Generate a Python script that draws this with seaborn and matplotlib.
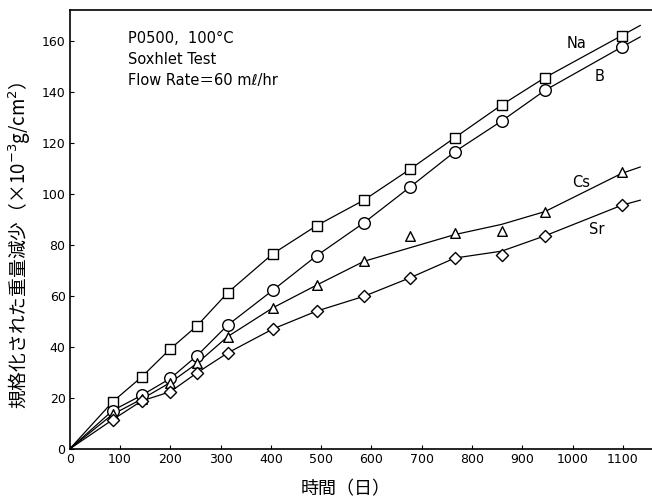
import numpy as np
import pandas as pd
import matplotlib
matplotlib.use("Agg")
import matplotlib.pyplot as plt
import seaborn as sns

# ---- data ----
days = [85, 143, 200, 253, 314, 404, 491, 585, 676, 766, 859, 945, 1098]
na = [18.4, 28.2, 39.2, 48.2, 61.2, 76.5, 87.5, 97.5, 109.5, 122.0, 134.8, 145.5, 162.0]
b = [15.0, 21.0, 27.6, 36.5, 48.5, 62.2, 75.7, 88.6, 102.5, 116.5, 128.5, 140.5, 157.5]
cs = [13.5, 19.5, 26.0, 33.5, 44.0, 55.3, 64.2, 73.5, 83.5, 84.5, 85.5, 93.0, 108.5]
sr = [11.4, 18.8, 22.4, 29.8, 37.6, 47.0, 54.0, 59.8, 67.0, 74.8, 76.0, 83.5, 95.5]

# drawn (fitted) curves, at 0, the data days, and the line end
curve_days = [0, 85, 143, 200, 253, 314, 404, 491, 585, 676, 766, 859, 945, 1098, 1135]
na_curve = [0, 18.4, 28.2, 39.2, 48.2, 61.2, 76.5, 87.5, 97.5, 109.5, 122.0, 134.8, 145.5, 162.0, 166.0]
b_curve = [0, 15.0, 21.0, 27.6, 36.5, 48.5, 62.2, 75.7, 88.6, 102.5, 116.5, 128.5, 140.5, 157.5, 161.5]
cs_curve = [0, 13.5, 19.5, 26.0, 33.5, 44.0, 55.3, 64.2, 73.5, 78.8, 84.0, 88.0, 93.0, 108.0, 110.5]
sr_curve = [0, 11.4, 18.8, 22.4, 29.8, 37.6, 47.0, 54.0, 59.8, 67.0, 74.8, 77.5, 83.5, 95.5, 97.5]

series_names = ["Na", "B", "Cs", "Sr"]
markers = {"Na": "s", "B": "o", "Cs": "^", "Sr": "D"}
marker_sizes = {"Na": 48, "B": 70, "Cs": 48, "Sr": 38}
x_ticks = list(range(0, 1200, 100))
y_ticks = list(range(0, 180, 20))

sns.set_style("ticks")
plt.rcParams["font.family"] = ["DejaVu Sans", "Noto Sans CJK JP"]
plt.rcParams["text.color"] = "black"
plt.rcParams["axes.labelcolor"] = "black"

values = {"Na": na, "B": b, "Cs": cs, "Sr": sr}
curves = {"Na": na_curve, "B": b_curve, "Cs": cs_curve, "Sr": sr_curve}
rows, crow = [], []
for name in series_names:
    for d, v in zip(days, values[name]):
        rows.append({"day": d, "value": v, "series": name})
    for d, v in zip(curve_days, curves[name]):
        crow.append({"day": d, "value": v, "series": name})
df = pd.DataFrame(rows)
cdf = pd.DataFrame(crow)

fig = plt.figure(figsize=(6.52, 5.01), dpi=100)
ax = fig.add_axes([0.107, 0.104, 0.893, 0.876])

sns.lineplot(data=cdf, x="day", y="value", units="series", estimator=None,
             color="black", linewidth=0.9, ax=ax, legend=False, sort=True)
for name in series_names:
    sub = df[df["series"] == name]
    sns.scatterplot(data=sub, x="day", y="value", marker=markers[name],
                    s=marker_sizes[name], facecolor="white", edgecolor="black",
                    linewidth=1.0, ax=ax, legend=False, zorder=5)

ax.set_xlim(0, 1158)
ax.set_ylim(0, 172)
ax.set_xticks(x_ticks)
ax.set_yticks(y_ticks)
ax.tick_params(direction="in", length=3, width=0.8, labelsize=9, colors="black", pad=3)
for s in ["left", "bottom", "top"]:
    ax.spines[s].set_linewidth(1.2)
    ax.spines[s].set_color("black")
ax.spines["right"].set_visible(False)

cjk = ["Noto Sans CJK JP", "DejaVu Sans"]
ax.set_xlabel("時間（日）", fontsize=13, family=cjk, color="black")
ax.xaxis.set_label_coords(0.473, -0.072)
ax.set_ylabel("規格化された重量減少（×10$^{-3}$g/cm$^{2}$）", fontsize=13.5, family=cjk, color="black")
ax.yaxis.set_label_coords(-0.064, 0.465)

ax.text(116, 161, "P0500,  100°C", fontsize=10.5, va="center", color="black")
ax.text(116, 152.5, "Soxhlet Test", fontsize=10.5, va="center", color="black")
ax.text(116, 144.5, "Flow Rate＝60 mℓ/hr", fontsize=10.5, va="center", color="black",
        family=["DejaVu Sans", "Noto Sans CJK JP"])

ax.text(1008, 159, "Na", fontsize=10.5, va="center", ha="center", color="black")
ax.text(1054, 146, "B", fontsize=10.5, va="center", ha="center", color="black")
ax.text(1018, 104.5, "Cs", fontsize=10.5, va="center", ha="center", color="black")
ax.text(1048, 86, "Sr", fontsize=10.5, va="center", ha="center", color="black")

fig.savefig("out.png", dpi=100)
